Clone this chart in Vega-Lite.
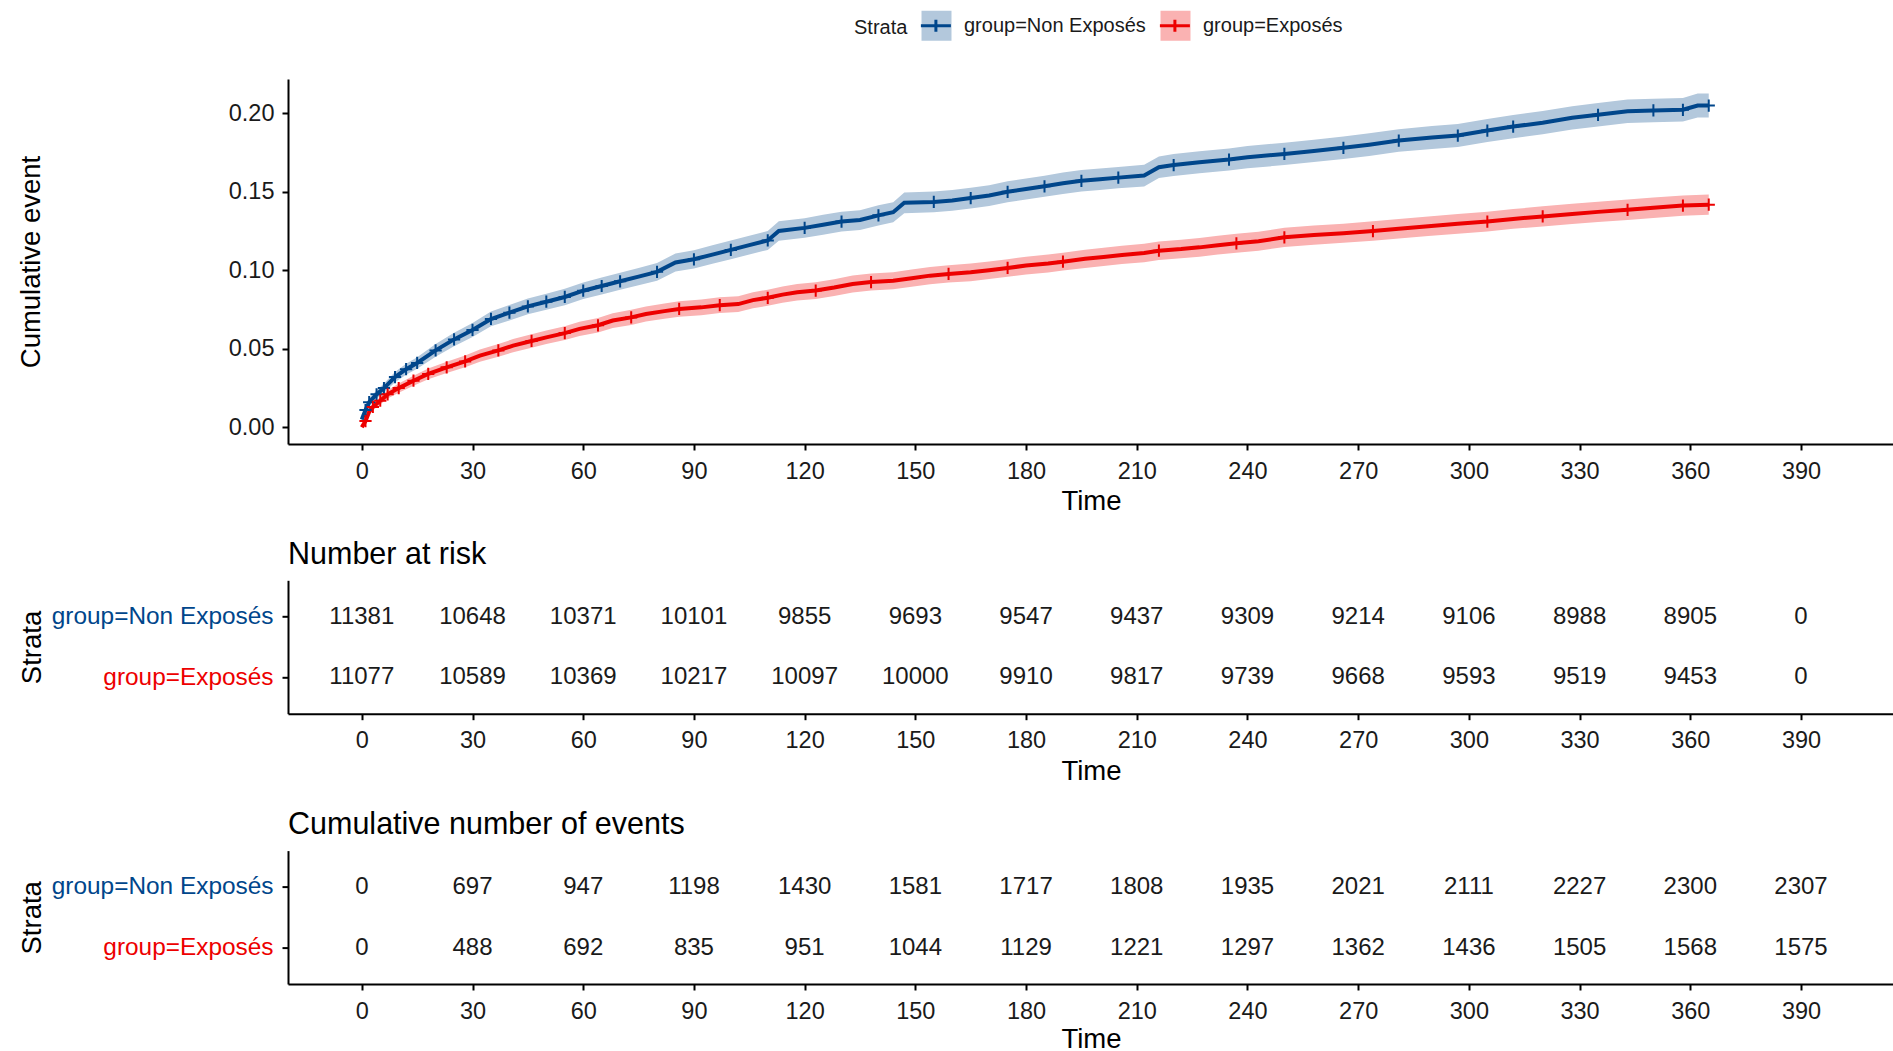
{
  "$schema": "https://vega.github.io/schema/vega-lite/v6.json",
  "background": "white",
  "padding": {"left": 17, "top": 9, "right": 0, "bottom": 0},
  "bounds": "flush",
  "spacing": 136.3,
  "config": {
    "view": {"stroke": null},
    "font": "Liberation Sans",
    "axis": {
      "labelFont": "Liberation Sans", "titleFont": "Liberation Sans", "grid": false,
      "domainColor": "#000000", "domainWidth": 2, "tickColor": "#000000", "tickWidth": 2, "tickSize": 6,
      "labelColor": "#1a1a1a", "titleColor": "#000000", "labelFontSize": 23.5, "titleFontSize": 27.5,
      "titleFontWeight": "normal", "labelPadding": 8, "labelLimit": 0
    },
    "axisX": {"labelPadding": 9, "titlePadding": 5},
    "title": {"font": "Liberation Sans", "fontSize": 30.5, "fontWeight": "normal", "anchor": "start", "frame": "group", "color": "#000000", "offset": 10}
  },
  "datasets": {
    "km": [
      {"strata": "group=Non Exposés", "time": 0, "est": 0.005, "lo": 0.0037, "hi": 0.0063, "c": 0},
      {"strata": "group=Non Exposés", "time": 1, "est": 0.011, "lo": 0.0091, "hi": 0.0129, "c": 1},
      {"strata": "group=Non Exposés", "time": 2, "est": 0.016, "lo": 0.0137, "hi": 0.0183, "c": 1},
      {"strata": "group=Non Exposés", "time": 4, "est": 0.021, "lo": 0.0183, "hi": 0.0237, "c": 1},
      {"strata": "group=Non Exposés", "time": 6, "est": 0.025, "lo": 0.0221, "hi": 0.0279, "c": 1},
      {"strata": "group=Non Exposés", "time": 9, "est": 0.032, "lo": 0.0287, "hi": 0.0353, "c": 1},
      {"strata": "group=Non Exposés", "time": 12, "est": 0.037, "lo": 0.0335, "hi": 0.0405, "c": 1},
      {"strata": "group=Non Exposés", "time": 15, "est": 0.041, "lo": 0.0373, "hi": 0.0447, "c": 1},
      {"strata": "group=Non Exposés", "time": 20, "est": 0.049, "lo": 0.0450, "hi": 0.0530, "c": 1},
      {"strata": "group=Non Exposés", "time": 25, "est": 0.056, "lo": 0.0517, "hi": 0.0603, "c": 1},
      {"strata": "group=Non Exposés", "time": 30, "est": 0.062, "lo": 0.0575, "hi": 0.0665, "c": 1},
      {"strata": "group=Non Exposés", "time": 35, "est": 0.069, "lo": 0.0643, "hi": 0.0737, "c": 1},
      {"strata": "group=Non Exposés", "time": 40, "est": 0.073, "lo": 0.0681, "hi": 0.0779, "c": 1},
      {"strata": "group=Non Exposés", "time": 45, "est": 0.077, "lo": 0.0720, "hi": 0.0820, "c": 1},
      {"strata": "group=Non Exposés", "time": 50, "est": 0.080, "lo": 0.0749, "hi": 0.0851, "c": 1},
      {"strata": "group=Non Exposés", "time": 55, "est": 0.083, "lo": 0.0778, "hi": 0.0882, "c": 1},
      {"strata": "group=Non Exposés", "time": 60, "est": 0.087, "lo": 0.0817, "hi": 0.0923, "c": 1},
      {"strata": "group=Non Exposés", "time": 65, "est": 0.090, "lo": 0.0846, "hi": 0.0954, "c": 1},
      {"strata": "group=Non Exposés", "time": 70, "est": 0.093, "lo": 0.0876, "hi": 0.0984, "c": 1},
      {"strata": "group=Non Exposés", "time": 75, "est": 0.096, "lo": 0.0905, "hi": 0.1015, "c": 0},
      {"strata": "group=Non Exposés", "time": 80, "est": 0.099, "lo": 0.0934, "hi": 0.1046, "c": 1},
      {"strata": "group=Non Exposés", "time": 85, "est": 0.105, "lo": 0.0993, "hi": 0.1107, "c": 0},
      {"strata": "group=Non Exposés", "time": 90, "est": 0.107, "lo": 0.1012, "hi": 0.1128, "c": 1},
      {"strata": "group=Non Exposés", "time": 95, "est": 0.110, "lo": 0.1041, "hi": 0.1159, "c": 0},
      {"strata": "group=Non Exposés", "time": 100, "est": 0.113, "lo": 0.1071, "hi": 0.1189, "c": 1},
      {"strata": "group=Non Exposés", "time": 105, "est": 0.116, "lo": 0.1100, "hi": 0.1220, "c": 0},
      {"strata": "group=Non Exposés", "time": 110, "est": 0.119, "lo": 0.1130, "hi": 0.1250, "c": 1},
      {"strata": "group=Non Exposés", "time": 113, "est": 0.125, "lo": 0.1188, "hi": 0.1312, "c": 0},
      {"strata": "group=Non Exposés", "time": 120, "est": 0.127, "lo": 0.1208, "hi": 0.1332, "c": 1},
      {"strata": "group=Non Exposés", "time": 125, "est": 0.129, "lo": 0.1227, "hi": 0.1353, "c": 0},
      {"strata": "group=Non Exposés", "time": 130, "est": 0.131, "lo": 0.1247, "hi": 0.1373, "c": 1},
      {"strata": "group=Non Exposés", "time": 135, "est": 0.132, "lo": 0.1257, "hi": 0.1383, "c": 0},
      {"strata": "group=Non Exposés", "time": 140, "est": 0.135, "lo": 0.1286, "hi": 0.1414, "c": 1},
      {"strata": "group=Non Exposés", "time": 144, "est": 0.137, "lo": 0.1306, "hi": 0.1434, "c": 0},
      {"strata": "group=Non Exposés", "time": 147, "est": 0.143, "lo": 0.1364, "hi": 0.1496, "c": 0},
      {"strata": "group=Non Exposés", "time": 155, "est": 0.1435, "lo": 0.1369, "hi": 0.1501, "c": 1},
      {"strata": "group=Non Exposés", "time": 160, "est": 0.1445, "lo": 0.1379, "hi": 0.1511, "c": 0},
      {"strata": "group=Non Exposés", "time": 165, "est": 0.146, "lo": 0.1394, "hi": 0.1526, "c": 1},
      {"strata": "group=Non Exposés", "time": 170, "est": 0.1476, "lo": 0.1410, "hi": 0.1542, "c": 0},
      {"strata": "group=Non Exposés", "time": 175, "est": 0.150, "lo": 0.1433, "hi": 0.1567, "c": 1},
      {"strata": "group=Non Exposés", "time": 180, "est": 0.1518, "lo": 0.1451, "hi": 0.1585, "c": 0},
      {"strata": "group=Non Exposés", "time": 185, "est": 0.1535, "lo": 0.1468, "hi": 0.1602, "c": 1},
      {"strata": "group=Non Exposés", "time": 190, "est": 0.1554, "lo": 0.1486, "hi": 0.1622, "c": 0},
      {"strata": "group=Non Exposés", "time": 195, "est": 0.157, "lo": 0.1502, "hi": 0.1638, "c": 1},
      {"strata": "group=Non Exposés", "time": 200, "est": 0.158, "lo": 0.1512, "hi": 0.1648, "c": 0},
      {"strata": "group=Non Exposés", "time": 205, "est": 0.159, "lo": 0.1522, "hi": 0.1658, "c": 1},
      {"strata": "group=Non Exposés", "time": 212, "est": 0.1603, "lo": 0.1534, "hi": 0.1672, "c": 0},
      {"strata": "group=Non Exposés", "time": 216, "est": 0.1656, "lo": 0.1587, "hi": 0.1725, "c": 0},
      {"strata": "group=Non Exposés", "time": 220, "est": 0.167, "lo": 0.1600, "hi": 0.1740, "c": 1},
      {"strata": "group=Non Exposés", "time": 227, "est": 0.1688, "lo": 0.1618, "hi": 0.1758, "c": 0},
      {"strata": "group=Non Exposés", "time": 235, "est": 0.1705, "lo": 0.1635, "hi": 0.1775, "c": 1},
      {"strata": "group=Non Exposés", "time": 240, "est": 0.172, "lo": 0.1649, "hi": 0.1791, "c": 0},
      {"strata": "group=Non Exposés", "time": 250, "est": 0.1741, "lo": 0.1670, "hi": 0.1812, "c": 1},
      {"strata": "group=Non Exposés", "time": 258, "est": 0.176, "lo": 0.1689, "hi": 0.1831, "c": 0},
      {"strata": "group=Non Exposés", "time": 266, "est": 0.178, "lo": 0.1708, "hi": 0.1852, "c": 1},
      {"strata": "group=Non Exposés", "time": 273, "est": 0.180, "lo": 0.1728, "hi": 0.1872, "c": 0},
      {"strata": "group=Non Exposés", "time": 281, "est": 0.1826, "lo": 0.1754, "hi": 0.1898, "c": 1},
      {"strata": "group=Non Exposés", "time": 290, "est": 0.1845, "lo": 0.1772, "hi": 0.1918, "c": 0},
      {"strata": "group=Non Exposés", "time": 297, "est": 0.1858, "lo": 0.1785, "hi": 0.1931, "c": 1},
      {"strata": "group=Non Exposés", "time": 305, "est": 0.189, "lo": 0.1817, "hi": 0.1963, "c": 1},
      {"strata": "group=Non Exposés", "time": 312, "est": 0.1915, "lo": 0.1841, "hi": 0.1989, "c": 1},
      {"strata": "group=Non Exposés", "time": 320, "est": 0.194, "lo": 0.1866, "hi": 0.2014, "c": 0},
      {"strata": "group=Non Exposés", "time": 328, "est": 0.1971, "lo": 0.1897, "hi": 0.2045, "c": 0},
      {"strata": "group=Non Exposés", "time": 335, "est": 0.199, "lo": 0.1915, "hi": 0.2065, "c": 1},
      {"strata": "group=Non Exposés", "time": 343, "est": 0.2013, "lo": 0.1938, "hi": 0.2088, "c": 0},
      {"strata": "group=Non Exposés", "time": 350, "est": 0.2018, "lo": 0.1943, "hi": 0.2093, "c": 1},
      {"strata": "group=Non Exposés", "time": 358, "est": 0.2022, "lo": 0.1947, "hi": 0.2097, "c": 1},
      {"strata": "group=Non Exposés", "time": 362, "est": 0.2049, "lo": 0.1973, "hi": 0.2125, "c": 0},
      {"strata": "group=Non Exposés", "time": 365, "est": 0.2049, "lo": 0.1973, "hi": 0.2125, "c": 1},
      {"strata": "group=Exposés", "time": 0, "est": 0.000, "lo": 0.0000, "hi": 0.0000, "c": 0},
      {"strata": "group=Exposés", "time": 1, "est": 0.004, "lo": 0.0028, "hi": 0.0052, "c": 1},
      {"strata": "group=Exposés", "time": 2, "est": 0.010, "lo": 0.0081, "hi": 0.0119, "c": 0},
      {"strata": "group=Exposés", "time": 3, "est": 0.013, "lo": 0.0109, "hi": 0.0151, "c": 1},
      {"strata": "group=Exposés", "time": 5, "est": 0.017, "lo": 0.0146, "hi": 0.0194, "c": 1},
      {"strata": "group=Exposés", "time": 7, "est": 0.021, "lo": 0.0183, "hi": 0.0237, "c": 1},
      {"strata": "group=Exposés", "time": 10, "est": 0.025, "lo": 0.0221, "hi": 0.0279, "c": 1},
      {"strata": "group=Exposés", "time": 14, "est": 0.0297, "lo": 0.0265, "hi": 0.0329, "c": 1},
      {"strata": "group=Exposés", "time": 18, "est": 0.034, "lo": 0.0306, "hi": 0.0374, "c": 1},
      {"strata": "group=Exposés", "time": 23, "est": 0.0382, "lo": 0.0346, "hi": 0.0418, "c": 1},
      {"strata": "group=Exposés", "time": 28, "est": 0.042, "lo": 0.0383, "hi": 0.0457, "c": 1},
      {"strata": "group=Exposés", "time": 32, "est": 0.0457, "lo": 0.0418, "hi": 0.0496, "c": 0},
      {"strata": "group=Exposés", "time": 37, "est": 0.049, "lo": 0.0450, "hi": 0.0530, "c": 1},
      {"strata": "group=Exposés", "time": 41, "est": 0.052, "lo": 0.0478, "hi": 0.0562, "c": 0},
      {"strata": "group=Exposés", "time": 46, "est": 0.055, "lo": 0.0507, "hi": 0.0593, "c": 1},
      {"strata": "group=Exposés", "time": 50, "est": 0.0573, "lo": 0.0530, "hi": 0.0616, "c": 0},
      {"strata": "group=Exposés", "time": 55, "est": 0.060, "lo": 0.0556, "hi": 0.0644, "c": 1},
      {"strata": "group=Exposés", "time": 59, "est": 0.0627, "lo": 0.0582, "hi": 0.0672, "c": 0},
      {"strata": "group=Exposés", "time": 64, "est": 0.065, "lo": 0.0604, "hi": 0.0696, "c": 1},
      {"strata": "group=Exposés", "time": 68, "est": 0.068, "lo": 0.0633, "hi": 0.0727, "c": 0},
      {"strata": "group=Exposés", "time": 73, "est": 0.070, "lo": 0.0652, "hi": 0.0748, "c": 1},
      {"strata": "group=Exposés", "time": 77, "est": 0.0722, "lo": 0.0674, "hi": 0.0770, "c": 0},
      {"strata": "group=Exposés", "time": 82, "est": 0.074, "lo": 0.0691, "hi": 0.0789, "c": 0},
      {"strata": "group=Exposés", "time": 86, "est": 0.0754, "lo": 0.0705, "hi": 0.0803, "c": 1},
      {"strata": "group=Exposés", "time": 92, "est": 0.0764, "lo": 0.0714, "hi": 0.0814, "c": 0},
      {"strata": "group=Exposés", "time": 97, "est": 0.0778, "lo": 0.0728, "hi": 0.0828, "c": 1},
      {"strata": "group=Exposés", "time": 102, "est": 0.0785, "lo": 0.0735, "hi": 0.0835, "c": 0},
      {"strata": "group=Exposés", "time": 106, "est": 0.081, "lo": 0.0759, "hi": 0.0861, "c": 0},
      {"strata": "group=Exposés", "time": 110, "est": 0.0825, "lo": 0.0774, "hi": 0.0876, "c": 1},
      {"strata": "group=Exposés", "time": 114, "est": 0.0845, "lo": 0.0793, "hi": 0.0897, "c": 0},
      {"strata": "group=Exposés", "time": 118, "est": 0.086, "lo": 0.0808, "hi": 0.0912, "c": 0},
      {"strata": "group=Exposés", "time": 123, "est": 0.0871, "lo": 0.0818, "hi": 0.0924, "c": 1},
      {"strata": "group=Exposés", "time": 128, "est": 0.089, "lo": 0.0837, "hi": 0.0943, "c": 0},
      {"strata": "group=Exposés", "time": 133, "est": 0.0913, "lo": 0.0859, "hi": 0.0967, "c": 0},
      {"strata": "group=Exposés", "time": 138, "est": 0.0925, "lo": 0.0871, "hi": 0.0979, "c": 1},
      {"strata": "group=Exposés", "time": 144, "est": 0.0934, "lo": 0.0880, "hi": 0.0988, "c": 0},
      {"strata": "group=Exposés", "time": 149, "est": 0.095, "lo": 0.0895, "hi": 0.1005, "c": 0},
      {"strata": "group=Exposés", "time": 154, "est": 0.0966, "lo": 0.0911, "hi": 0.1021, "c": 0},
      {"strata": "group=Exposés", "time": 159, "est": 0.0977, "lo": 0.0922, "hi": 0.1032, "c": 1},
      {"strata": "group=Exposés", "time": 165, "est": 0.0987, "lo": 0.0931, "hi": 0.1043, "c": 0},
      {"strata": "group=Exposés", "time": 170, "est": 0.100, "lo": 0.0944, "hi": 0.1056, "c": 0},
      {"strata": "group=Exposés", "time": 175, "est": 0.1015, "lo": 0.0959, "hi": 0.1071, "c": 1},
      {"strata": "group=Exposés", "time": 180, "est": 0.103, "lo": 0.0973, "hi": 0.1087, "c": 0},
      {"strata": "group=Exposés", "time": 186, "est": 0.1043, "lo": 0.0986, "hi": 0.1100, "c": 0},
      {"strata": "group=Exposés", "time": 190, "est": 0.1055, "lo": 0.0998, "hi": 0.1112, "c": 1},
      {"strata": "group=Exposés", "time": 196, "est": 0.1073, "lo": 0.1015, "hi": 0.1131, "c": 0},
      {"strata": "group=Exposés", "time": 201, "est": 0.1085, "lo": 0.1027, "hi": 0.1143, "c": 0},
      {"strata": "group=Exposés", "time": 206, "est": 0.1098, "lo": 0.1040, "hi": 0.1156, "c": 0},
      {"strata": "group=Exposés", "time": 212, "est": 0.111, "lo": 0.1051, "hi": 0.1169, "c": 0},
      {"strata": "group=Exposés", "time": 216, "est": 0.1125, "lo": 0.1066, "hi": 0.1184, "c": 1},
      {"strata": "group=Exposés", "time": 222, "est": 0.1135, "lo": 0.1076, "hi": 0.1194, "c": 0},
      {"strata": "group=Exposés", "time": 227, "est": 0.1146, "lo": 0.1087, "hi": 0.1205, "c": 0},
      {"strata": "group=Exposés", "time": 232, "est": 0.116, "lo": 0.1100, "hi": 0.1220, "c": 0},
      {"strata": "group=Exposés", "time": 237, "est": 0.1172, "lo": 0.1112, "hi": 0.1232, "c": 1},
      {"strata": "group=Exposés", "time": 243, "est": 0.1185, "lo": 0.1125, "hi": 0.1245, "c": 0},
      {"strata": "group=Exposés", "time": 250, "est": 0.121, "lo": 0.1149, "hi": 0.1271, "c": 1},
      {"strata": "group=Exposés", "time": 258, "est": 0.1224, "lo": 0.1163, "hi": 0.1285, "c": 0},
      {"strata": "group=Exposés", "time": 266, "est": 0.1236, "lo": 0.1175, "hi": 0.1297, "c": 0},
      {"strata": "group=Exposés", "time": 274, "est": 0.125, "lo": 0.1188, "hi": 0.1312, "c": 1},
      {"strata": "group=Exposés", "time": 281, "est": 0.1264, "lo": 0.1202, "hi": 0.1326, "c": 0},
      {"strata": "group=Exposés", "time": 289, "est": 0.128, "lo": 0.1218, "hi": 0.1342, "c": 0},
      {"strata": "group=Exposés", "time": 297, "est": 0.1296, "lo": 0.1233, "hi": 0.1359, "c": 0},
      {"strata": "group=Exposés", "time": 305, "est": 0.131, "lo": 0.1247, "hi": 0.1373, "c": 1},
      {"strata": "group=Exposés", "time": 312, "est": 0.1327, "lo": 0.1264, "hi": 0.1390, "c": 0},
      {"strata": "group=Exposés", "time": 320, "est": 0.1343, "lo": 0.1279, "hi": 0.1407, "c": 1},
      {"strata": "group=Exposés", "time": 328, "est": 0.1359, "lo": 0.1295, "hi": 0.1423, "c": 0},
      {"strata": "group=Exposés", "time": 335, "est": 0.1372, "lo": 0.1308, "hi": 0.1436, "c": 0},
      {"strata": "group=Exposés", "time": 343, "est": 0.1385, "lo": 0.1320, "hi": 0.1450, "c": 1},
      {"strata": "group=Exposés", "time": 350, "est": 0.1398, "lo": 0.1333, "hi": 0.1463, "c": 0},
      {"strata": "group=Exposés", "time": 358, "est": 0.1412, "lo": 0.1347, "hi": 0.1477, "c": 1},
      {"strata": "group=Exposés", "time": 365, "est": 0.1418, "lo": 0.1353, "hi": 0.1483, "c": 1}
    ],
    "risk": [
      {"strata": "group=Non Exposés", "time": 0, "n": 11381},
      {"strata": "group=Non Exposés", "time": 30, "n": 10648},
      {"strata": "group=Non Exposés", "time": 60, "n": 10371},
      {"strata": "group=Non Exposés", "time": 90, "n": 10101},
      {"strata": "group=Non Exposés", "time": 120, "n": 9855},
      {"strata": "group=Non Exposés", "time": 150, "n": 9693},
      {"strata": "group=Non Exposés", "time": 180, "n": 9547},
      {"strata": "group=Non Exposés", "time": 210, "n": 9437},
      {"strata": "group=Non Exposés", "time": 240, "n": 9309},
      {"strata": "group=Non Exposés", "time": 270, "n": 9214},
      {"strata": "group=Non Exposés", "time": 300, "n": 9106},
      {"strata": "group=Non Exposés", "time": 330, "n": 8988},
      {"strata": "group=Non Exposés", "time": 360, "n": 8905},
      {"strata": "group=Non Exposés", "time": 390, "n": 0},
      {"strata": "group=Exposés", "time": 0, "n": 11077},
      {"strata": "group=Exposés", "time": 30, "n": 10589},
      {"strata": "group=Exposés", "time": 60, "n": 10369},
      {"strata": "group=Exposés", "time": 90, "n": 10217},
      {"strata": "group=Exposés", "time": 120, "n": 10097},
      {"strata": "group=Exposés", "time": 150, "n": 10000},
      {"strata": "group=Exposés", "time": 180, "n": 9910},
      {"strata": "group=Exposés", "time": 210, "n": 9817},
      {"strata": "group=Exposés", "time": 240, "n": 9739},
      {"strata": "group=Exposés", "time": 270, "n": 9668},
      {"strata": "group=Exposés", "time": 300, "n": 9593},
      {"strata": "group=Exposés", "time": 330, "n": 9519},
      {"strata": "group=Exposés", "time": 360, "n": 9453},
      {"strata": "group=Exposés", "time": 390, "n": 0}
    ],
    "events": [
      {"strata": "group=Non Exposés", "time": 0, "n": 0},
      {"strata": "group=Non Exposés", "time": 30, "n": 697},
      {"strata": "group=Non Exposés", "time": 60, "n": 947},
      {"strata": "group=Non Exposés", "time": 90, "n": 1198},
      {"strata": "group=Non Exposés", "time": 120, "n": 1430},
      {"strata": "group=Non Exposés", "time": 150, "n": 1581},
      {"strata": "group=Non Exposés", "time": 180, "n": 1717},
      {"strata": "group=Non Exposés", "time": 210, "n": 1808},
      {"strata": "group=Non Exposés", "time": 240, "n": 1935},
      {"strata": "group=Non Exposés", "time": 270, "n": 2021},
      {"strata": "group=Non Exposés", "time": 300, "n": 2111},
      {"strata": "group=Non Exposés", "time": 330, "n": 2227},
      {"strata": "group=Non Exposés", "time": 360, "n": 2300},
      {"strata": "group=Non Exposés", "time": 390, "n": 2307},
      {"strata": "group=Exposés", "time": 0, "n": 0},
      {"strata": "group=Exposés", "time": 30, "n": 488},
      {"strata": "group=Exposés", "time": 60, "n": 692},
      {"strata": "group=Exposés", "time": 90, "n": 835},
      {"strata": "group=Exposés", "time": 120, "n": 951},
      {"strata": "group=Exposés", "time": 150, "n": 1044},
      {"strata": "group=Exposés", "time": 180, "n": 1129},
      {"strata": "group=Exposés", "time": 210, "n": 1221},
      {"strata": "group=Exposés", "time": 240, "n": 1297},
      {"strata": "group=Exposés", "time": 270, "n": 1362},
      {"strata": "group=Exposés", "time": 300, "n": 1436},
      {"strata": "group=Exposés", "time": 330, "n": 1505},
      {"strata": "group=Exposés", "time": 360, "n": 1568},
      {"strata": "group=Exposés", "time": 390, "n": 1575}
    ]
  },
  "vconcat": [
    {
      "width": 1606,
      "height": 365,
      "data": {"name": "km"},
      "layer": [
        {
          "mark": {"type": "area", "opacity": 1},
          "encoding": {
            "x": {"field": "time", "type": "quantitative", "scale": {"domain": [-20, 415.2], "nice": false, "zero": false},
                  "axis": {"values": [0, 30, 60, 90, 120, 150, 180, 210, 240, 270, 300, 330, 360, 390], "title": "Time"}},
            "y": {"field": "lo", "type": "quantitative", "scale": {"domain": [-0.0106, 0.2218], "nice": false, "zero": false},
                  "axis": {"values": [0, 0.05, 0.1, 0.15, 0.2], "format": ".2f", "title": "Cumulative event", "titlePadding": 183, "maxExtent": 400}},
            "y2": {"field": "hi"},
            "fill": {"field": "strata", "type": "nominal",
                     "scale": {"domain": ["group=Non Exposés", "group=Exposés"], "range": ["#B3C8DC", "#FAB2B2"]},
                     "legend": {"orient": "none", "legendX": 566, "legendY": -70, "direction": "horizontal",
                                "title": "Strata", "titleOrient": "left", "titleAnchor": "middle", "titleBaseline": "middle",
                                "titleFont": "Liberation Sans", "titleFontSize": 20, "titleFontWeight": "normal", "titleColor": "#1a1a1a", "titlePadding": 12,
                                "labelFont": "Liberation Sans", "labelFontSize": 20, "labelColor": "#1a1a1a", "labelOffset": 11, "columnPadding": 8, "labelLimit": 0,
                                "symbolType": "square", "symbolSize": 900, "symbolStrokeWidth": 3, "symbolStrokeColor": "transparent", "symbolOpacity": 1, "padding": 0}}
          }
        },
        {
          "mark": {"type": "line", "strokeWidth": 4},
          "encoding": {
            "x": {"field": "time", "type": "quantitative", "scale": {"domain": [-20, 415.2], "nice": false, "zero": false}},
            "y": {"field": "est", "type": "quantitative", "scale": {"domain": [-0.0106, 0.2218], "nice": false, "zero": false}},
            "stroke": {"field": "strata", "type": "nominal", "sort": "descending",
                       "scale": {"range": ["#00468B", "#ED0000"]},
                       "legend": {"orient": "none", "legendX": 631.4, "legendY": -70, "direction": "horizontal",
                                  "title": null,
                                  "labelFont": "Liberation Sans", "labelFontSize": 20, "labelColor": "#1a1a1a", "labelOffset": 11, "columnPadding": 8, "labelOpacity": 0, "labelLimit": 0,
                                  "symbolType": "M-1,0H1M0,-0.4V0.4", "symbolSize": 900, "symbolStrokeWidth": 3, "symbolFillColor": "transparent", "symbolOpacity": 1, "padding": 0}}
          }
        },
        {
          "transform": [{"filter": "datum.c == 1"}],
          "mark": {"type": "point", "shape": "M-1,0H1M0,-1V1", "filled": false, "size": 150, "strokeWidth": 2, "opacity": 1},
          "encoding": {
            "x": {"field": "time", "type": "quantitative", "scale": {"domain": [-20, 415.2], "nice": false, "zero": false}},
            "y": {"field": "est", "type": "quantitative", "scale": {"domain": [-0.0106, 0.2218], "nice": false, "zero": false}},
            "stroke": {"field": "strata", "type": "nominal", "sort": "descending", "scale": {"range": ["#00468B", "#ED0000"]}}
          }
        }
      ]
    },
    {
      "width": 1606,
      "height": 133.4,
      "title": {"text": "Number at risk"},
      "data": {"name": "risk"},
      "mark": {"type": "text", "fontSize": 24, "font": "Liberation Sans", "color": "#1a1a1a", "baseline": "middle", "align": "center"},
      "encoding": {
        "x": {"field": "time", "type": "quantitative", "scale": {"domain": [-20, 415.2], "nice": false, "zero": false},
              "axis": {"values": [0, 30, 60, 90, 120, 150, 180, 210, 240, 270, 300, 330, 360, 390], "title": "Time"}},
        "y": {"field": "strata", "type": "nominal", "scale": {"domain": ["group=Non Exposés", "group=Exposés"], "padding": 0.6},
              "axis": {"title": "Strata", "labelFontSize": 24.4, "labelPadding": 9, "titlePadding": 5, "labelLimit": 0, "maxExtent": 400,
                       "labelColor": {"condition": {"test": "datum.value === 'group=Exposés'", "value": "#ED0000"}, "value": "#00468B"}}},
        "text": {"field": "n", "type": "quantitative", "format": "d"}
      }
    },
    {
      "width": 1606,
      "height": 133.4,
      "title": {"text": "Cumulative number of events"},
      "data": {"name": "events"},
      "mark": {"type": "text", "fontSize": 24, "font": "Liberation Sans", "color": "#1a1a1a", "baseline": "middle", "align": "center"},
      "encoding": {
        "x": {"field": "time", "type": "quantitative", "scale": {"domain": [-20, 415.2], "nice": false, "zero": false},
              "axis": {"values": [0, 30, 60, 90, 120, 150, 180, 210, 240, 270, 300, 330, 360, 390], "title": "Time", "titlePadding": 3}},
        "y": {"field": "strata", "type": "nominal", "scale": {"domain": ["group=Non Exposés", "group=Exposés"], "padding": 0.6},
              "axis": {"title": "Strata", "labelFontSize": 24.4, "labelPadding": 9, "titlePadding": 5, "labelLimit": 0, "maxExtent": 400,
                       "labelColor": {"condition": {"test": "datum.value === 'group=Exposés'", "value": "#ED0000"}, "value": "#00468B"}}},
        "text": {"field": "n", "type": "quantitative", "format": "d"}
      }
    }
  ]
}
